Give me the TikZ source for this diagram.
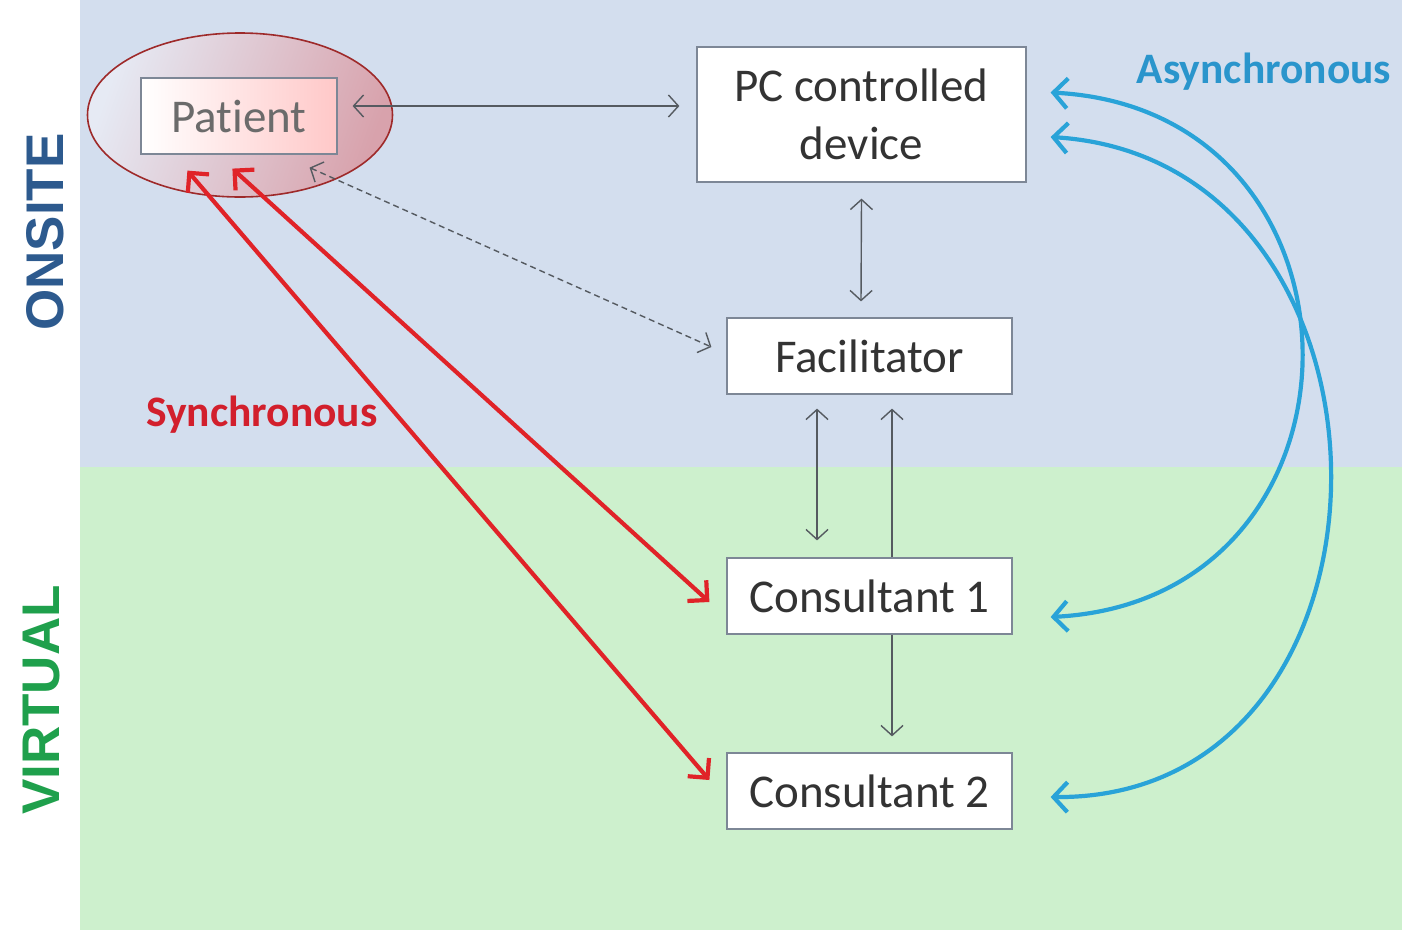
\documentclass[tikz,border=0pt]{standalone}
\usepackage{fontspec}
\setmainfont[Ligatures={NoCommon}]{Carlito}
\newfontfamily\sidefont{Liberation Sans}
\usetikzlibrary{arrows.meta,calc,shapes.geometric}

\definecolor{onsitebg}{HTML}{D3DEEE}
\definecolor{virtualbg}{HTML}{CDF0CD}
\definecolor{boxline}{HTML}{7D8796}
\definecolor{boxtext}{HTML}{333333}
\definecolor{linegray}{HTML}{555A60}
\definecolor{syncred}{HTML}{E02328}
\definecolor{synctext}{HTML}{D21F2C}
\definecolor{asyncblue}{HTML}{29A3D8}
\definecolor{asynctext}{HTML}{2A95CC}
\definecolor{onsiteblue}{HTML}{2D5A8E}
\definecolor{virtualgreen}{HTML}{1FA04C}
\definecolor{ringred}{HTML}{9E2A2A}
\definecolor{ringleft}{HTML}{E6EAF4}
\definecolor{ringright}{HTML}{D8A2AC}
\definecolor{patpink}{HTML}{FFC8C8}

\tikzset{
  box/.style={draw=boxline, fill=white, line width=1.2pt, text=boxtext,
    font=\fontsize{47}{58}\selectfont, inner sep=0pt, align=center},
  thinlink/.style={draw=linegray, line width=1.4pt,
    {Straight Barb[length=10pt,width=22pt,line width=1.4pt]}-{Straight Barb[length=10pt,width=22pt,line width=1.4pt]}},
  thinone/.style={draw=linegray, line width=1.4pt,
    -{Straight Barb[length=10pt,width=22pt,line width=1.4pt]}},
  synclink/.style={draw=syncred, line width=4.2pt,
    {Straight Barb[length=14pt,width=28pt,line width=4.2pt]}-{Straight Barb[length=14pt,width=28pt,line width=4.2pt]}},
  asynclink/.style={draw=asyncblue, line width=4.2pt,
    {Straight Barb[length=14pt,width=30pt,line width=4.2pt]}-{Straight Barb[length=14pt,width=30pt,line width=4.2pt]}},
  sidelabel/.style={rotate=90, font=\sidefont\bfseries\fontsize{53}{53}\selectfont},
  modelabel/.style={font=\bfseries\fontsize{43.5}{44}\selectfont}
}

\begin{document}
\begin{tikzpicture}[x=1pt,y=-1pt]
\useasboundingbox (0,0) rectangle (1402,930);

% background bands
\fill[white] (0,0) rectangle (1402,930);
\fill[onsitebg] (80,0) rectangle (1402,467);
\fill[virtualbg] (80,467) rectangle (1402,930);

% side labels
\node[sidelabel, text=onsiteblue] (onsite) at (45,232) {ONSITE};
\node[sidelabel, text=virtualgreen] (virtual) at (42,700) {VIRTUAL};

% highlight ring round the patient
\node[ellipse, draw=ringred, line width=1.6pt, left color=ringleft, right color=ringright,
  shading angle=70, minimum width=305pt, minimum height=164pt, inner sep=0pt] (ring) at (240,115) {};

% boxes
\node[box, left color=white, right color=patpink, text=black!58, minimum width=196pt, minimum height=76pt] (patient) at (239,116) {Patient};
\node[box, minimum width=329pt, minimum height=135pt] (pc) at (861.5,114.5) {PC controlled\\device};
\node[box, minimum width=285pt, minimum height=76pt] (fac) at (869.5,356) {Facilitator};
\node[box, minimum width=285pt, minimum height=76pt] (c1) at (869.5,596) {Consultant 1};
\node[box, minimum width=285pt, minimum height=76pt] (c2) at (869.5,791) {Consultant 2};

% thin links
\draw[thinlink] ($(patient.east)+(15,-10)$) -- ($(pc.west)+(-17,-8.5)$);
\draw[thinlink] ($(pc.south)+(0,16)$) -- ($(fac.north)+(-8.5,-16)$);
\draw[thinlink, dash pattern=on 6pt off 4pt] ($(patient.south east)+(-28,13)$) -- ($(fac.west)+(-15,-9)$);
\draw[thinlink] ($(fac.south)+(-52.5,14)$) -- ($(c1.north)+(-52.5,-17)$);
\draw[thinone] ($(c1.north)+(22.5,0)$) -- ($(fac.south)+(22.5,14)$);
\draw[thinone] ($(c1.south)+(22.5,0)$) -- ($(c2.north)+(22.5,-16)$);

% synchronous links
\draw[synclink] ($(patient.south west)+(47,16)$) -- ($(c2.west)+(-17,-11)$);
\draw[synclink] ($(patient.south west)+(92,14)$) -- ($(c1.west)+(-17,6)$);

% asynchronous links
\draw[asynclink] ($(pc.east)+(24,-22)$) .. controls (1385,110) and (1385,600) .. ($(c1.east)+(38,21)$);
\draw[asynclink] ($(pc.east)+(24,22.5)$) .. controls (1423,160) and (1423,800) .. ($(c2.east)+(38,6)$);

% mode labels
\node[modelabel, text=synctext] (sync) at (262,415) {Synchronous};
\node[modelabel, text=asynctext] (async) at (1264,72) {Asynchronous};
\end{tikzpicture}
\end{document}
